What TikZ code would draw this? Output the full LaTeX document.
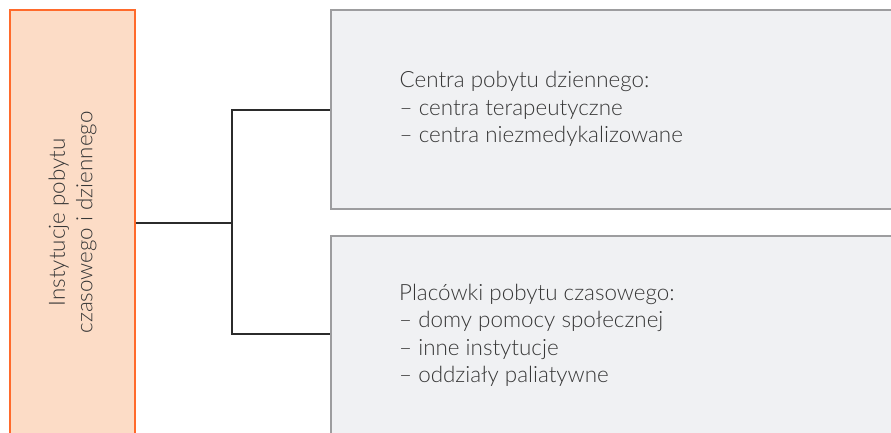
\documentclass[tikz,border=0pt]{standalone}
\usepackage{fontspec}
\IfFontExistsTF{Lato Light}{\setmainfont{Lato Light}}{\setmainfont{Lato}}
\usepackage{tikz}
\definecolor{peachfill}{RGB}{252, 220, 198}
\definecolor{peachline}{RGB}{255, 106, 43}
\definecolor{boxfill}{RGB}{240, 241, 243}
\definecolor{boxline}{RGB}{157, 157, 159}
\definecolor{linkgray}{RGB}{43, 43, 43}
\definecolor{textgray}{RGB}{55, 55, 55}

\begin{document}
\begin{tikzpicture}[x=1bp, y=-1bp,
    txt/.style={text=textgray, font=\fontsize{22.4bp}{27.5bp}\selectfont},
    mainbox/.style={draw=peachline, fill=peachfill, line width=2bp, minimum width=125bp, minimum height=426bp, inner sep=0pt},
    sidebox/.style={draw=boxline, fill=boxfill, line width=2bp, minimum width=572bp, inner sep=0pt, anchor=north west},
    link/.style={draw=linkgray, line width=2.2bp}]
  \useasboundingbox (0,0) rectangle (891,433);
  \clip (0,0) rectangle (891,433);
  \node[mainbox] (inst) at (72.2,223) {};
  \node[sidebox, minimum height=199bp] (centra) at (329.5,9.5) {};
  \node[sidebox, minimum height=200bp] (placowki) at (329.5,235.3) {};
  \node[txt, rotate=90, align=center] (instlabel) at (72.5,222.5) {Instytucje pobytu\\czasowego i dziennego};
  \node[txt, align=left, anchor=north west, inner sep=0pt] (centralabel) at (399.5,71.5)
    {Centra pobytu dziennego:\\– centra terapeutyczne\\– centra niezmedykalizowane};
  \node[txt, align=left, anchor=north west, inner sep=0pt] (placowkilabel) at (399,284)
    {Placówki pobytu czasowego:\\– domy pomocy społecznej\\– inne instytucje\\– oddziały paliatywne};
  \coordinate (split) at (232.3,223.3);
  \draw[link] (inst.east |- split) -- (split);
  \draw[link] (centra.west) -| (split);
  \draw[link] (placowki.west |- 0,334.3) -| (split);
\end{tikzpicture}
\end{document}
